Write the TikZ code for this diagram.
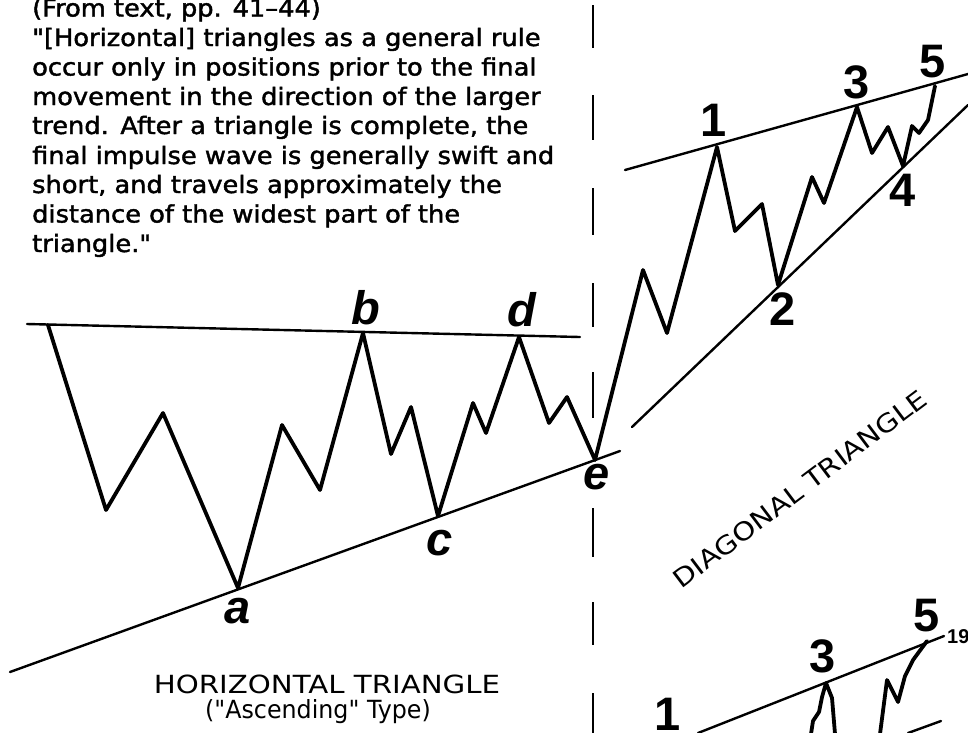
\documentclass[tikz,border=0pt]{standalone}
\usepackage{fontspec}
\usepackage{graphicx}
\setmainfont{DejaVu Sans}
\newfontfamily\bodyfont[FakeBold=1.6]{DejaVu Sans}
\newfontfamily\captfont{DejaVu Sans}
\newfontfamily\lblfont{Liberation Sans}
\newcommand{\wide}[2]{\scalebox{#1}[1]{#2}}
\newcommand{\dq}{\symbol{34}}
\begin{document}
\begin{tikzpicture}[x=1pt,y=-1pt,
  wave/.style={line width=3.8pt, line join=round, line cap=round},
  trend/.style={line width=2.4pt, line cap=round},
  dashseg/.style={line width=2.6pt},
  lbl/.style={font=\fontsize{47}{47}\selectfont\lblfont\bfseries, inner sep=0pt},
  lbli/.style={font=\fontsize{47}{47}\selectfont\lblfont\bfseries\itshape, inner sep=0pt},
  body/.style={font=\fontsize{24}{29}\selectfont\bodyfont, anchor=base west, inner sep=0pt},
  capt/.style={font=\fontsize{25}{25}\selectfont\captfont, inner sep=0pt},
  small/.style={font=\fontsize{20}{20}\selectfont\lblfont\bfseries, inner sep=0pt}]
\useasboundingbox (0,0) rectangle (968,732);
\fill[white] (0,0) rectangle (968,732);

% ---------- quoted text ----------
\node[body] (t1) at (32,16.5) {\wide{1.07}{(From text, pp. 41–44)}};
\node[body] (t2) at (32,46) {\wide{1.07}{\dq[Horizontal] triangles as a general rule}};
\node[body] (t3) at (32,75.5) {\wide{1.07}{occur only in positions prior to the final}};
\node[body] (t4) at (32,105) {\wide{1.07}{movement in the direction of the larger}};
\node[body] (t5) at (32,134) {\wide{1.07}{trend.\hspace{0.45em}After a triangle is complete, the}};
\node[body] (t6) at (32,164) {\wide{1.07}{final impulse wave is generally swift and}};
\node[body] (t7) at (32,193) {\wide{1.07}{short, and travels approximately the}};
\node[body] (t8) at (32,222.5) {\wide{1.07}{distance of the widest part of the}};
\node[body] (t9) at (32,252) {\wide{1.07}{triangle.\dq}};

% ---------- dashed divider ----------
\foreach \ya/\yb in {5/48, 95/140, 188/235, 283/327, 372/418, 508/557, 602/645, 693/736}
  \draw[dashseg] (593,\ya) -- (593,\yb);

% ---------- horizontal triangle ----------
\coordinate (hl1) at (27,324);
\coordinate (hl2) at (580,337);
\coordinate (ll1) at (10,672);
\coordinate (ll2) at (620,451);
\draw[trend] (hl1) -- (hl2);
\draw[trend] (ll1) -- (ll2);

\coordinate (h0) at (48,325);
\coordinate (h1) at (106,510);
\coordinate (h2) at (163,413);
\coordinate (pa) at (238,588);
\coordinate (h4) at (282,425);
\coordinate (h5) at (320,490);
\coordinate (pb) at (363,333);
\coordinate (h7) at (391,454);
\coordinate (h8) at (411,407);
\coordinate (pc) at (438,516);
\coordinate (h10) at (473,403);
\coordinate (h11) at (486,433);
\coordinate (pd) at (519,337);
\coordinate (h13) at (549,423);
\coordinate (h14) at (567,397);
\coordinate (pe) at (595,460);

% ---------- diagonal triangle ----------
\coordinate (ul1) at (625,170);
\coordinate (ul2) at (968,74);
\coordinate (dl1) at (632,427);
\coordinate (dl2) at (968,105);
\draw[trend] (ul1) -- (ul2);
\draw[trend] (dl1) -- (dl2);

\coordinate (g1) at (643,270);
\coordinate (g2) at (667,333);
\coordinate (p1) at (717,147);
\coordinate (g4) at (735,231);
\coordinate (g5) at (762,204);
\coordinate (p2) at (778,285);
\coordinate (g7) at (812,177);
\coordinate (g8) at (824,203);
\coordinate (p3) at (857,107);
\coordinate (g10) at (872,153);
\coordinate (g11) at (888,127);
\coordinate (p4) at (903,166);
\coordinate (g13) at (912,126);
\coordinate (g14) at (919,133);
\coordinate (g15) at (928,120);
\coordinate (p5) at (935,86);

\draw[wave] (h0) -- (h1) -- (h2) -- (pa) -- (h4) -- (h5) -- (pb) -- (h7) -- (h8)
  -- (pc) -- (h10) -- (h11) -- (pd) -- (h13) -- (h14) -- (pe)
  -- (g1) -- (g2) -- (p1) -- (g4) -- (g5) -- (p2) -- (g7) -- (g8) -- (p3)
  -- (g10) -- (g11) -- (p4) -- (g13) -- (g14) -- (g15) -- (p5);

% labels
\node[lbli] (la) at (238,611) {a};
\node[lbli] (lb) at (366,308) {b};
\node[lbli] (lc) at (440,543) {c};
\node[lbli] (ld) at (522,310) {d};
\node[lbli] (le) at (597,477) {e};
\node[lbl] (l1) at (714,120) {1};
\node[lbl] (l2) at (783,309) {2};
\node[lbl] (l3) at (857,82) {3};
\node[lbl] (l4) at (903,190) {4};
\node[lbl] (l5) at (933,62) {5};

% captions
\node[capt] (cap1) at (327,684) {\wide{1.17}{HORIZONTAL TRIANGLE}};
\node[capt] (cap2) at (318,712) {\wide{0.95}{(\dq Ascending\dq\ Type)}};
\node[capt, rotate=37] (cap3) at (800,489) {\wide{1.17}{DIAGONAL TRIANGLE}};

% ---------- second figure (bottom right) ----------
\coordinate (bl1) at (698,733);
\coordinate (bl2) at (944,636);
\draw[trend] (bl1) -- (bl2);
\coordinate (bm1) at (908,733);
\coordinate (bm2) at (941,721);
\draw[trend] (bm1) -- (bm2);

\coordinate (q0) at (811,734);
\coordinate (q1) at (813,721);
\coordinate (q2) at (819,712);
\coordinate (q3) at (822,697);
\coordinate (q4) at (826,683);
\coordinate (q5) at (832,698);
\coordinate (q6) at (835,734);
\draw[wave] (q0) -- (q1) -- (q2) -- (q3) -- (q4) -- (q5) -- (q6);

\coordinate (r0) at (880,734);
\coordinate (r1) at (887,680);
\coordinate (r2) at (898,702);
\coordinate (r3) at (905,676);
\coordinate (r4) at (913,660);
\coordinate (r5) at (927,641);
\draw[wave] (r0) -- (r1) -- (r2) -- (r3) -- (r4) -- (r5);

\node[lbl] (m1) at (668,714) {1};
\node[lbl] (m3) at (823,656) {3};
\node[lbl] (m5) at (927,616) {5};
\node[small, anchor=west] (m19) at (947,637) {19};
\end{tikzpicture}
\end{document}
